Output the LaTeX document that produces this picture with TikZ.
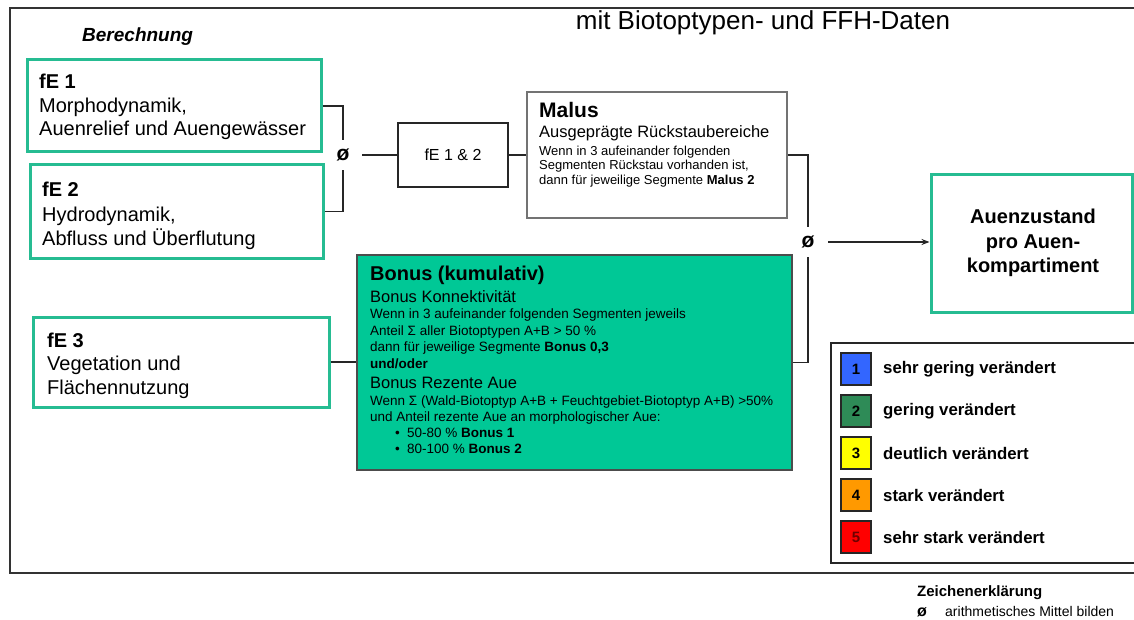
\documentclass[tikz,border=0pt]{standalone}
\usepackage{fontspec}
\setmainfont{Liberation Sans}
\usetikzlibrary{arrows.meta,fit}
\definecolor{fegreen}{RGB}{38,188,146}
\definecolor{bonusfill}{RGB}{0,200,150}
\definecolor{malusgray}{RGB}{115,115,115}
\definecolor{lgone}{RGB}{51,102,255}
\definecolor{lgtwo}{RGB}{46,139,87}
\definecolor{lgthree}{RGB}{255,255,0}
\definecolor{lgfour}{RGB}{255,153,0}
\definecolor{lgfive}{RGB}{255,0,0}
\definecolor{darkred}{RGB}{110,0,0}
\newcommand{\fsz}[2]{\fontsize{#1}{#2}\selectfont}
\tikzset{
  febox/.style={draw=fegreen, line width=3pt, inner sep=0pt},
  plainbox/.style={draw=black!85, line width=1.3pt, inner sep=0pt},
  malusbox/.style={draw=malusgray, line width=1.2pt, inner sep=0pt},
  bonusbox/.style={draw=black!70, fill=bonusfill, line width=1.3pt, inner sep=0pt},
  legbox/.style={draw=black!85, line width=1.5pt, inner sep=0pt},
  conn/.style={draw=black!85, line width=1.3pt},
  avg/.style={inner sep=0pt, minimum width=38pt, minimum height=30pt, font=\fsz{21}{21}\bfseries},
  txt/.style={inner sep=0pt, anchor=base west, align=left},
  legsq/.style={draw=black!85, line width=1.2pt, minimum width=30pt, minimum height=32pt, inner sep=0pt, font=\fsz{15}{15}\bfseries},
  legtxt/.style={inner sep=0pt, anchor=west, font=\fsz{16.8}{20}\bfseries},
}
\begin{document}
\begin{tikzpicture}[x=1pt,y=-1pt]
\useasboundingbox (0,0) rectangle (1134,620);
\clip (0,0) rectangle (1134,620);
\fill[white] (0,0) rectangle (1134,620);
% outer frame
\draw[black!80, line width=1.8pt] (1150,8) -- (10,8) -- (10,573) -- (1150,573);
% title
\node[inner sep=0pt, font=\fsz{26}{30}] (title) at (763,23) {mit Biotoptypen- und FFH-Daten};
\node[txt, font=\fsz{19}{22}\bfseries\itshape] (berech) at (82,42) {Berechnung};

% fE boxes
\node[febox, fit={(27,60) (321,152)}] (fe1) {};
\node[txt, font=\fsz{20}{23.5}] (fe1t) at (39,136) {\textbf{fE 1}\\Morphodynamik,\\Auenrelief und Auengewässer};
\node[febox, fit={(30,165) (323,258)}] (fe2) {};
\node[txt, font=\fsz{20}{24}] (fe2t) at (42,245) {\textbf{fE 2}\\Hydrodynamik,\\Abfluss und Überflutung};
\node[febox, fit={(33,317) (329,407)}] (fe3) {};
\node[txt, font=\fsz{20}{23.5}] (fe3t) at (47,394) {\textbf{fE 3}\\Vegetation und\\Flächennutzung};

% averages
\node[avg] (avg1) at (343,155) {ø};
\node[avg, minimum width=40pt] (avg2) at (808,242) {ø};

% fE 1 & 2
\node[plainbox, fit={(398,123) (508,187)}] (fe12) {};
\node[inner sep=0pt, font=\fsz{16}{18}] (fe12t) at (fe12.center) {fE 1 \& 2};

% Malus
\node[malusbox, fit={(527,92) (787,218)}] (malus) {};
\node[txt, font=\fsz{21}{24}\bfseries] (malust) at (539,117.5) {Malus};
\node[txt, font=\fsz{16.5}{19}] (malus2) at (539,138) {Ausgeprägte Rückstaubereiche};
\node[txt, font=\fsz{13}{14.5}] (malus3) at (539,184.5) {Wenn in 3 aufeinander folgenden\\Segmenten Rückstau vorhanden ist,\\dann für jeweilige Segmente \textbf{Malus 2}};

% Bonus
\node[bonusbox, fit={(357,255) (792,470)}] (bonus) {};
\node[txt, font=\fsz{20}{24}\bfseries] (bonust) at (370,280) {Bonus (kumulativ)};
\node[txt, font=\fsz{16.5}{19}] (bonus2) at (370,302) {Bonus Konnektivität};
\node[txt, font=\fsz{13.5}{16.5}] (bonus3) at (370,368) {Wenn in 3 aufeinander folgenden Segmenten jeweils\\Anteil Σ aller Biotoptypen A+B > 50 \%\\dann für jeweilige Segmente \textbf{Bonus 0,3}\\\textbf{und/oder}};
\node[txt, font=\fsz{16.5}{19}] (bonus4) at (370,388) {Bonus Rezente Aue};
\node[txt, font=\fsz{13.5}{16}] (bonus5) at (370,421) {Wenn Σ (Wald-Biotoptyp A+B + Feuchtgebiet-Biotoptyp A+B) >50\%\\und Anteil rezente Aue an morphologischer Aue:};
\node[txt, font=\fsz{13.5}{16}] (bonus6) at (395,453) {\makebox[12pt][l]{\textbullet}50-80 \% \textbf{Bonus 1}\\\makebox[12pt][l]{\textbullet}80-100 \% \textbf{Bonus 2}};

% result
\node[febox, fit={(931,175) (1132,312)}] (auen) {};
\node[inner sep=0pt, align=center, font=\fsz{20}{24.5}\bfseries] (auent) at (1033,243) {Auenzustand\\pro Auen-\\kompartiment};

% connectors
\draw[conn] (fe1.east) -| (avg1.north);
\draw[conn] (fe2.east) -| (avg1.south);
\draw[conn] (avg1.east) -- (avg1.east -| fe12.west);
\draw[conn] (fe12.east) -- (fe12.east -| malus.west);
\draw[conn] (malus.east) -| (avg2.north);
\draw[conn] (bonus.east) -| (avg2.south);
\draw[conn] (fe3.east) -- (fe3.east -| bonus.west);
\draw[conn, -{Stealth[length=8pt,width=6pt]}] (avg2.east) -- (avg2.east -| auen.west);

% legend
\node[legbox, fit={(831,343) (1150,563)}] (legend) {};
\node[legsq, fill=lgone] (l1) at (856,369) {1};
\node[legsq, fill=lgtwo] (l2) at (856,411) {2};
\node[legsq, fill=lgthree] (l3) at (856,453) {3};
\node[legsq, fill=lgfour] (l4) at (856,495) {4};
\node[legsq, fill=lgfive, text=darkred] (l5) at (856,537) {5};
\node[legtxt] (l1t) at (883,369) {sehr gering verändert};
\node[legtxt] (l2t) at (883,411) {gering verändert};
\node[legtxt] (l3t) at (883,453) {deutlich verändert};
\node[legtxt] (l4t) at (883,495) {stark verändert};
\node[legtxt] (l5t) at (883,537) {sehr stark verändert};

% key
\node[inner sep=0pt, anchor=west, font=\fsz{15}{18}\bfseries] (zk) at (917,593) {Zeichenerklärung};
\node[inner sep=0pt, anchor=west, font=\fsz{16}{16}\bfseries] (zkavg) at (917,612) {ø};
\node[inner sep=0pt, anchor=west, font=\fsz{14}{16}] (zkt) at (945,611) {arithmetisches Mittel bilden};
\end{tikzpicture}
\end{document}
